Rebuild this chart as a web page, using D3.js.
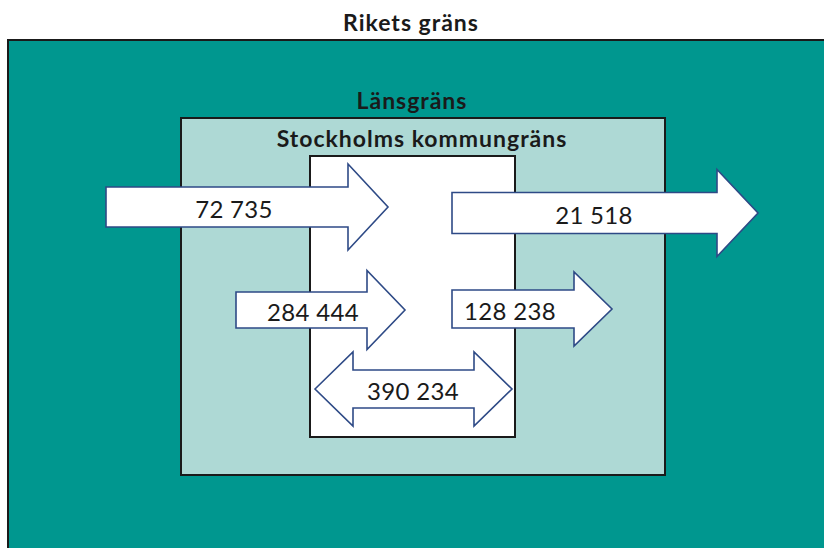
<!doctype html>
<html lang="sv">
<head>
  <meta charset="UTF-8">
  <title>Flöden över kommungränsen</title>
  <style type="text/css">
    body { margin: 0; background: #fff; }
    svg { display: block; }
  </style>
  <script src="https://cdn.jsdelivr.net/npm/d3@7"></script>
</head>
<body>
  <svg id="chart" width="824" height="548"></svg>
  <script>
    // data
    const boundaries = ["Rikets gräns", "Länsgräns", "Stockholms kommungräns"]
    const flowValues = [72735, 21518, 284444, 128238, 390234]
    const flowKinds = ["in", "out", "in", "out", "both"]

    // layout (pixels)
    const boxes = [
      { x: 8, y: 40, w: 830, h: 530, fill: "#00978f", labelX: 411, labelY: 22 },
      { x: 181, y: 118, w: 484, h: 357, fill: "#aed9d5", labelX: 412, labelY: 100 },
      { x: 310, y: 156, w: 205, h: 281, fill: "#ffffff", labelX: 422, labelY: 138 }
    ]
    const arrowLayout = [
      { x0: 106, x1: 388, yc: 207, body: 40, head: 40, headH: 86, tx: 234 },
      { x0: 452, x1: 758, yc: 213, body: 41, head: 41, headH: 87, tx: 594 },
      { x0: 236, x1: 405, yc: 310, body: 36, head: 38, headH: 79, tx: 313 },
      { x0: 452, x1: 612, yc: 309, body: 38, head: 38, headH: 74, tx: 510 },
      { x0: 315, x1: 512, yc: 389, body: 38, head: 38, headH: 74, tx: 413 }
    ]

    const fmt = d3.formatLocale({ decimal: ",", thousands: " ", grouping: [3], currency: ["", " kr"] }).format(",")

    const svg = d3.select("#chart")

    svg.selectAll("rect.box")
      .data(boxes)
      .enter().append("rect")
      .attr("class", "box")
      .attr("x", d => d.x)
      .attr("y", d => d.y)
      .attr("width", d => d.w)
      .attr("height", d => d.h)
      .attr("fill", d => d.fill)
      .attr("stroke", "#1a1a1a")
      .attr("stroke-width", 2)

    svg.selectAll("text.boundary")
      .data(boundaries)
      .enter().append("text")
      .attr("class", "boundary")
      .attr("x", (d, i) => boxes[i].labelX)
      .attr("y", (d, i) => boxes[i].labelY)
      .attr("text-anchor", "middle")
      .attr("dominant-baseline", "central")
      .style("font-family", "Lato, 'Open Sans', sans-serif")
      .style("font-weight", "bold")
      .style("font-size", "23px")
      .style("letter-spacing", "1px")
      .style("fill", "#1a1a1a")
      .text(d => d)

    function arrowPath(a, kind) {
      const hb = a.body / 2, hh = a.headH / 2
      const p = d3.path()
      if (kind === "both") {
        p.moveTo(a.x0, a.yc)
        p.lineTo(a.x0 + a.head, a.yc - hh)
        p.lineTo(a.x0 + a.head, a.yc - hb)
        p.lineTo(a.x1 - a.head, a.yc - hb)
        p.lineTo(a.x1 - a.head, a.yc - hh)
        p.lineTo(a.x1, a.yc)
        p.lineTo(a.x1 - a.head, a.yc + hh)
        p.lineTo(a.x1 - a.head, a.yc + hb)
        p.lineTo(a.x0 + a.head, a.yc + hb)
        p.lineTo(a.x0 + a.head, a.yc + hh)
      } else {
        p.moveTo(a.x0, a.yc - hb)
        p.lineTo(a.x1 - a.head, a.yc - hb)
        p.lineTo(a.x1 - a.head, a.yc - hh)
        p.lineTo(a.x1, a.yc)
        p.lineTo(a.x1 - a.head, a.yc + hh)
        p.lineTo(a.x1 - a.head, a.yc + hb)
        p.lineTo(a.x0, a.yc + hb)
      }
      p.closePath()
      return p.toString()
    }

    const flows = svg.selectAll("g.flow")
      .data(flowValues)
      .enter().append("g")
      .attr("class", "flow")

    flows.append("path")
      .attr("d", (d, i) => arrowPath(arrowLayout[i], flowKinds[i]))
      .attr("fill", "#ffffff")
      .attr("stroke", "#2e4a86")
      .attr("stroke-width", 1.6)
      .attr("stroke-linejoin", "miter")

    flows.append("text")
      .attr("x", (d, i) => arrowLayout[i].tx)
      .attr("y", (d, i) => arrowLayout[i].yc + 1)
      .attr("text-anchor", "middle")
      .attr("dominant-baseline", "central")
      .style("font-family", "Lato, 'Open Sans', sans-serif")
      .style("font-size", "24px")
      .style("letter-spacing", "0.3px")
      .style("fill", "#1a1a1a")
      .text(d => fmt(d))
  </script>
</body>
</html>
